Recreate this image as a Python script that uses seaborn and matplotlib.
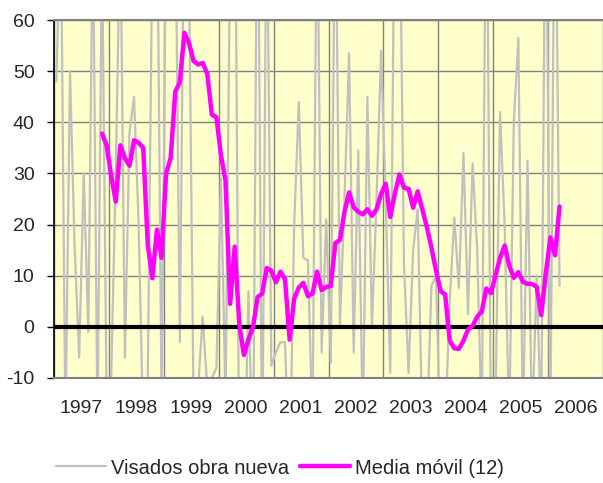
import numpy as np
import pandas as pd
import matplotlib
matplotlib.use("Agg")
import matplotlib.pyplot as plt
import seaborn as sns

# Monthly data, Jan 1997 (index 0) to Mar 2006 (index 110)
years = ['1997', '1998', '1999', '2000', '2001', '2002', '2003', '2004', '2005', '2006']

# Visados obra nueva (those beyond the axis range are estimates)
visados = [48, 80, -20, 50, 16, -6, 30, -1, 80, -20,
           75, -15, -10, 30, 80, -6, 38, 45, 20, -20,
           -10, 75, 90, -15, 80, 90, 85, -3, 90, 70,
           -15, -12, 2, -12, -10, -8, 29, -15, 75, 100,
           -30, -35, 7, -30, 100, -30, 90, -7.6, -5, -3,
           -3, -30, 20, 44, 13.5, 13, -20, 90, -5, 21,
           -7, 90, 0.2, 25, 53.5, -5, 34.5, -20, 45, 0,
           25, 54, 25, -9, 90, 90, 12, -9, 15, 23,
           -20, -20, 8, 10, -25, -20, 5, 21.4, 7.6, 34,
           2.5, 32, 15, -20, 100, -20, -15, 42, 20, -20,
           40, 56.5, -20, 32.5, -20, 10, -20, 100, -20, 100,
           8]

# Media movil (12), starts at index 10
media_start = 10
media = [37.8, 35.5, 29.5, 24.5, 35.5, 33, 31.5, 36.5, 36, 35,
         16, 9.5, 19, 13.5, 30, 33, 46, 47.8, 57.5, 55.5,
         52, 51.3, 51.6, 49.5, 41.5, 41, 33.5, 28.5, 4.5, 15.7,
         0.5, -5.5, -2.5, 0, 5.8, 6.5, 11.5, 11, 8.7, 10.8,
         9.3, -2.5, 5.5, 7.7, 8.6, 6, 6.5, 10.8, 7.2, 7.8,
         8, 16.4, 17, 22.5, 26.3, 23.4, 22.5, 22, 23, 21.7,
         23, 26, 28, 21.5, 26, 29.8, 27.2, 27, 23.3, 26.5,
         23, 19.5, 15.5, 11, 7, 6.3, -2.7, -4.2, -4.3, -2.7,
         -0.5, 0.2, 2, 3, 7.5, 6.6, 10, 13.5, 15.9, 12,
         9.6, 10.7, 8.8, 8.4, 8.4, 7.8, 2.3, 10.5, 17.5, 14,
         23.5]

df_v = pd.DataFrame({'mes': np.arange(len(visados)), 'valor': visados})
df_m = pd.DataFrame({'mes': np.arange(media_start, media_start + len(media)), 'valor': media})

sns.set_theme(style="white")
plt.rcParams['font.family'] = ['Liberation Sans', 'DejaVu Sans']
plt.rcParams['axes.unicode_minus'] = False

fig = plt.figure(figsize=(6.03, 4.83), dpi=100)
ax = fig.add_axes([54 / 603, 1 - 378 / 483, 549 / 603, 358 / 483])
ax.set_facecolor('#FFFFCC')

sns.lineplot(data=df_v, x='mes', y='valor', ax=ax, color='#C0C0C0', linewidth=1.6,
             label='Visados obra nueva', zorder=2)
ax.axhline(0, color='black', linewidth=3, zorder=3)
sns.lineplot(data=df_m, x='mes', y='valor', ax=ax, color='#FF00FF', linewidth=3.2,
             label='Media móvil (12)', zorder=4)

ax.set_xlim(-0.5, 119.5)
ax.set_ylim(-10, 60)
ax.set_yticks(range(-10, 61, 10))
ax.set_xticks([-0.5 + 12 * k for k in range(11)])
ax.set_xticklabels([])
ax.set_xticks([5.5 + 12 * k for k in range(len(years))], minor=True)
ax.set_xticklabels(years, minor=True)
ax.grid(True, which='major', color='#808080', linewidth=1, zorder=1)
ax.set_axisbelow(True)
ax.tick_params(axis='x', which='both', length=0, pad=16, labelsize=14)
ax.tick_params(axis='y', length=5, width=1, color='black', direction='out', pad=9,
               labelsize=14, left=True)
ax.set_xlabel('')
ax.set_ylabel('')

for side in ['top', 'bottom']:
    ax.spines[side].set_color('#808080')
    ax.spines[side].set_linewidth(1.5)
ax.spines['right'].set_visible(False)
ax.spines['left'].set_color('black')
ax.spines['left'].set_linewidth(1.2)

handles, labels = ax.get_legend_handles_labels()
ax.get_legend().remove()
fig.legend(handles, labels, loc='center', bbox_to_anchor=(280 / 603, 1 - 468 / 483), ncol=2,
           frameon=False, fontsize=14.5, handlelength=2.5, handletextpad=0.25, columnspacing=0.5)

fig.savefig('out.png', dpi=100)
